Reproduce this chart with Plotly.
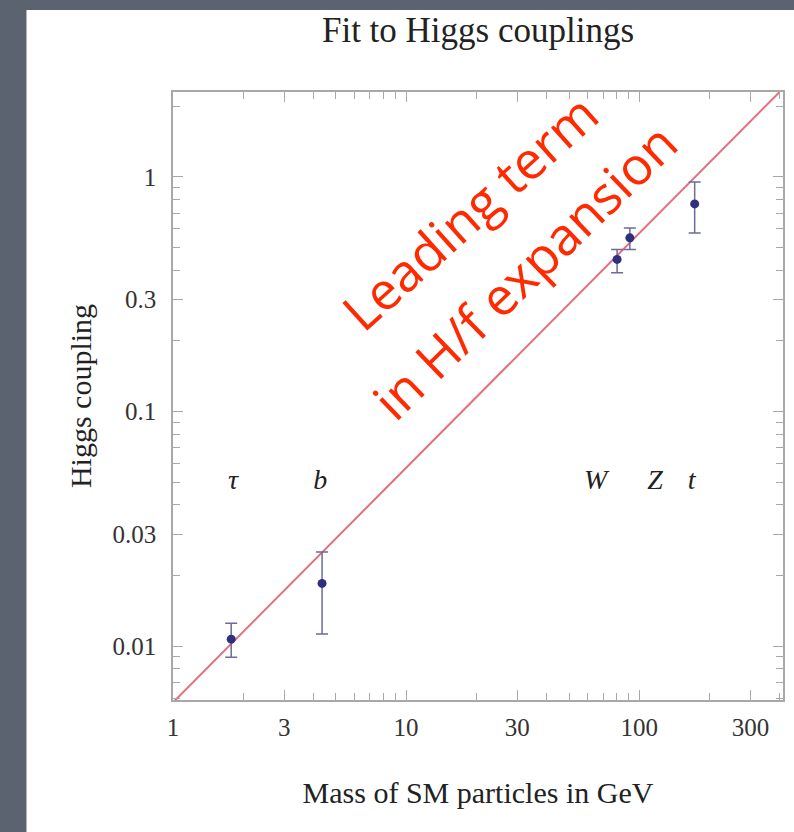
import plotly.graph_objects as go

# ---- data ----
particles = ["τ", "b", "W", "Z", "t"]
mass = [1.777, 4.36, 80.4, 91.2, 173.0]
coupling = [0.0107, 0.0185, 0.445, 0.55, 0.767]
coupling_hi = [0.0125, 0.0252, 0.490, 0.606, 0.952]
coupling_lo = [0.00895, 0.01125, 0.390, 0.490, 0.577]
label_mass = [1.81, 4.28, 65.0, 117.0, 168.0]
label_coupling = [0.050, 0.050, 0.050, 0.050, 0.050]
line_mass = [1.0, 400.0]
line_coupling = [0.00575, 2.30]
x_tick_vals = [1, 3, 10, 30, 100, 300]
x_tick_text = ["1", "3", "10", "30", "100", "300"]
x_minor_vals = [2, 4, 5, 6, 7, 8, 9, 20, 40, 50, 60, 70, 80, 90, 200, 400]
y_tick_vals = [0.01, 0.03, 0.1, 0.3, 1]
y_tick_text = ["0.01", "0.03", "0.1", "0.3", "1"]
y_minor_vals = [0.006, 0.007, 0.008, 0.009, 0.02, 0.04, 0.05, 0.06, 0.07, 0.08, 0.09,
                0.2, 0.4, 0.5, 0.6, 0.7, 0.8, 0.9, 2]

SERIF = "Liberation Serif, Times New Roman, serif"
W, H = 794, 832
L, R, T, B = 173, 9, 92, 132
pw, ph = W - L - R, H - T - B

fig = go.Figure()

fig.add_trace(go.Scatter(
    x=line_mass, y=line_coupling, mode="lines",
    line=dict(color="#e2707c", width=2), hoverinfo="skip", showlegend=False))

fig.add_trace(go.Scatter(
    x=mass, y=coupling, mode="markers",
    marker=dict(color="#2f2f80", size=9),
    error_y=dict(type="data", symmetric=False,
                 array=[h - c for h, c in zip(coupling_hi, coupling)],
                 arrayminus=[c - l for c, l in zip(coupling, coupling_lo)],
                 color="#6b6b9c", thickness=1.5, width=6),
    showlegend=False))

fig.add_trace(go.Scatter(
    x=label_mass, y=label_coupling, mode="text", text=particles,
    textfont=dict(family=SERIF, size=28, color="#222", style="italic"),
    textposition="middle center", hoverinfo="skip", showlegend=False))

axis_common = dict(
    type="log", showgrid=False, zeroline=False,
    showline=True, linecolor="#a8a8a8", linewidth=1.5, mirror="ticks",
    ticks="inside", ticklen=10, tickwidth=1.2, tickcolor="#a8a8a8",
    tickfont=dict(family=SERIF, size=25, color="#333"),
)

fig.update_layout(
    width=W, height=H,
    margin=dict(l=L, r=R, t=T, b=B),
    paper_bgcolor="#5b6371",
    plot_bgcolor="white",
    title=dict(text="Fit to Higgs couplings", x=0.5, xref="paper", xanchor="center",
               y=1 - 30 / H, yanchor="middle", yref="container",
               font=dict(family=SERIF, size=35, color="#222")),
    xaxis=dict(axis_common, range=[0, 2.617], tickmode="array",
               tickvals=x_tick_vals, ticktext=x_tick_text,
               minor=dict(tickmode="array", tickvals=x_minor_vals, ticks="inside",
                          ticklen=7, tickcolor="#a8a8a8", tickwidth=1.2),
               ticklabelstandoff=4,
               title=dict(text="Mass of SM particles in GeV",
                          font=dict(family=SERIF, size=30, color="#222"), standoff=42)),
    yaxis=dict(axis_common, range=[-2.230, 0.362], tickmode="array",
               tickvals=y_tick_vals, ticktext=y_tick_text,
               minor=dict(tickmode="array", tickvals=y_minor_vals, ticks="inside",
                          ticklen=7, tickcolor="#a8a8a8", tickwidth=1.2),
               ticklabelstandoff=10,
               title=dict(text="Higgs coupling",
                          font=dict(family=SERIF, size=30, color="#222"), standoff=12)),
    shapes=[dict(type="rect", xref="paper", yref="paper",
                 x0=(26 - L) / pw, x1=1.1, y0=-0.4, y1=(H - B - 10) / ph,
                 fillcolor="white", line=dict(width=0), layer="below")],
    annotations=[
        dict(text="Leading term", xref="paper", yref="paper",
             x=(470 - L) / pw, y=(H - B - 212) / ph, xanchor="center", yanchor="middle",
             showarrow=False, textangle=-42,
             font=dict(family="Open Sans, sans-serif", size=52, color="#ff2a00")),
        dict(text="in H/f expansion", xref="paper", yref="paper",
             x=(525 - L) / pw, y=(H - B - 270) / ph, xanchor="center", yanchor="middle",
             showarrow=False, textangle=-44,
             font=dict(family="Open Sans, sans-serif", size=52, color="#ff2a00")),
    ],
)

fig.write_html("out.html")
